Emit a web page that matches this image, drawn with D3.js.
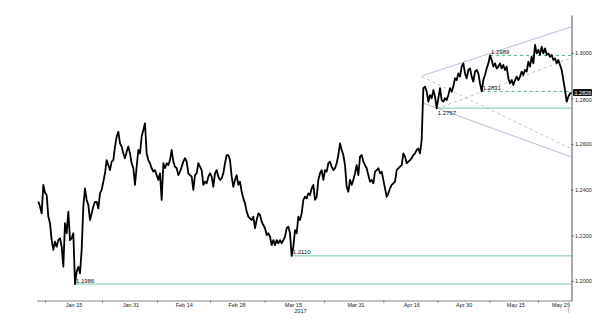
<!DOCTYPE html>
<html>
<head>
<meta charset="utf-8">
<script src="https://cdn.jsdelivr.net/npm/d3@7"></script>
<style>
body { margin: 0; background: #fff; }
svg text { font-family: "Liberation Sans", Arial, sans-serif; }
</style>
</head>
<body>
<svg></svg>
<script>
const width = 600;
const height = 320;

// x unit: trading sessions since Mon Jan 2 2017
const sessionStart = 3.041;
const sessionStep = 0.32515;

const prices = [
  1.2348, 1.2326, 1.2296, 1.2421, 1.2387, 1.2377, 1.2282, 1.2253, 1.2179, 1.2136,
  1.2172, 1.2150, 1.2179, 1.2187, 1.2150, 1.2062, 1.2253, 1.2209, 1.2304, 1.2179,
  1.2187, 1.2209, 1.1986, 1.2041, 1.2062, 1.2033, 1.2136, 1.2326, 1.2406, 1.2355,
  1.2333, 1.2267, 1.2296, 1.2326,
  1.2347, 1.2347, 1.2318, 1.2384, 1.2399, 1.2435, 1.2472, 1.2530, 1.2508, 1.2486,
  1.2523, 1.2530, 1.2589, 1.2633, 1.2654, 1.2603, 1.2589, 1.2559, 1.2538, 1.2567,
  1.2589, 1.2559, 1.2516, 1.2494, 1.2421, 1.2501, 1.2574, 1.2559, 1.2633, 1.2662,
  1.2691, 1.2559, 1.2530, 1.2516, 1.2494, 1.2479, 1.2486, 1.2464, 1.2443, 1.2472,
  1.2355, 1.2516, 1.2494, 1.2516, 1.2508, 1.2530, 1.2574, 1.2523, 1.2501, 1.2494,
  1.2464,
  1.2479, 1.2501, 1.2523, 1.2538, 1.2523, 1.2472, 1.2464, 1.2457, 1.2399, 1.2464,
  1.2472, 1.2516, 1.2501, 1.2486, 1.2421, 1.2435, 1.2428, 1.2457, 1.2472, 1.2457,
  1.2413, 1.2472, 1.2486, 1.2457, 1.2443, 1.2450, 1.2472, 1.2516, 1.2552, 1.2552,
  1.2530, 1.2457, 1.2413, 1.2443, 1.2464, 1.2421, 1.2435, 1.2391, 1.2362, 1.2340,
  1.2304, 1.2282, 1.2274, 1.2267, 1.2282, 1.2231, 1.2267, 1.2296, 1.2289, 1.2260,
  1.2245, 1.2231, 1.2201, 1.2209, 1.2194, 1.2157, 1.2179, 1.2157, 1.2179, 1.2165,
  1.2179, 1.2165, 1.2179, 1.2194, 1.2231, 1.2238,
  1.2209, 1.2110, 1.2150, 1.2223, 1.2209, 1.2282, 1.2267, 1.2296, 1.2355, 1.2369,
  1.2362, 1.2384, 1.2377, 1.2406, 1.2421, 1.2355, 1.2369, 1.2443, 1.2472, 1.2486,
  1.2443, 1.2486, 1.2479, 1.2516, 1.2523, 1.2501, 1.2486, 1.2494, 1.2516, 1.2552,
  1.2603, 1.2574, 1.2552, 1.2508, 1.2413, 1.2391, 1.2443, 1.2421, 1.2443, 1.2472,
  1.2508, 1.2464, 1.2545, 1.2552, 1.2523, 1.2508, 1.2494, 1.2464, 1.2435, 1.2443,
  1.2428, 1.2479, 1.2486, 1.2494, 1.2472, 1.2479, 1.2443, 1.2406, 1.2369, 1.2384,
  1.2406, 1.2421, 1.2428, 1.2435, 1.2486, 1.2494, 1.2501, 1.2508, 1.2559, 1.2545,
  1.2516, 1.2523, 1.2530, 1.2538, 1.2552, 1.2559, 1.2574, 1.2581, 1.2559,
  1.2620, 1.2845, 1.2852, 1.2830, 1.2786, 1.2815, 1.2801, 1.2837, 1.2808, 1.2757,
  1.2801, 1.2845, 1.2793, 1.2786, 1.2801, 1.2793, 1.2815, 1.2845, 1.2830, 1.2852,
  1.2888, 1.2881, 1.2910, 1.2896, 1.2940, 1.2954, 1.2910, 1.2888, 1.2925, 1.2932,
  1.2896, 1.2874, 1.2918, 1.2925, 1.2910, 1.2866, 1.2831, 1.2881, 1.2903, 1.2932,
  1.2954, 1.2989, 1.2969, 1.2940, 1.2954, 1.2932, 1.2940, 1.2954, 1.2932, 1.2947,
  1.2925, 1.2940, 1.2888, 1.2866, 1.2881, 1.2859, 1.2881, 1.2896, 1.2881, 1.2896,
  1.2918, 1.2903, 1.2925, 1.2918, 1.2962, 1.2940, 1.2983, 1.2954, 1.3035, 1.2998,
  1.3013, 1.2991, 1.3027, 1.2998, 1.3020, 1.2991, 1.2998, 1.2983, 1.2991, 1.2969,
  1.2976, 1.2954, 1.2969, 1.2947, 1.2925, 1.2881, 1.2837, 1.2786, 1.2808, 1.2822,
  1.2826
];

const xTickLabels = ["Jan 15", "Jan 31", "Feb 14", "Feb 28", "Mar 15", "Mar 31", "Apr 16", "Apr 30", "May 15", "May 29"];
const xTickSessions = [10, 21.1, 31.5, 41.8, 52.8, 65, 75.9, 86.1, 96.2, 105];
const yearLabel = "2017";
const yTicks = [1.20, 1.22, 1.24, 1.26, 1.28, 1.30];

// support / resistance levels
const levelValues = [1.1986, 1.2110, 1.2757, 1.2831, 1.2989];
const levelStart = [10.19, 52.46, 80.75, 89.53, 91.16];
const levelDashed = [false, false, false, true, true];
const levelLabelAbove = [true, true, false, true, true];

// broadening formation lines [t1, v1, t2, v2]
const fanSolid = [[77.83, 1.2899, 107.09, 1.3115], [78.08, 1.2780, 107.09, 1.2543]];
const fanDashed = [[77.83, 1.2896, 106.76, 1.2582], [80.82, 1.2755, 106.76, 1.2976]];

const data = prices.map((p, i) => ({t: sessionStart + i * sessionStep, v: p}));
const lastPrice = prices[prices.length - 1];

var xScale = d3.scaleLinear().domain([2.782, 107.09]).range([37, 571.7]);
var yScale = d3.scaleLinear().domain([1.19118, 1.31662]).range([301, 15]);

var svg = d3.select("svg").attr("width", width).attr("height", height);

// level lines
levelValues.forEach((v, i) => {
  svg.append("line")
    .attr("x1", xScale(levelStart[i])).attr("x2", 571.5)
    .attr("y1", yScale(v)).attr("y2", yScale(v))
    .attr("stroke", levelDashed[i] ? "#4fb592" : "#a3dccb")
    .attr("stroke-width", levelDashed[i] ? 1 : 1.5)
    .attr("stroke-dasharray", levelDashed[i] ? "3,3" : null);
});

// fan lines
svg.selectAll("line.fan")
  .data(fanSolid)
  .enter()
  .append("line")
  .attr("class", "fan")
  .attr("x1", d => xScale(d[0])).attr("y1", d => yScale(d[1]))
  .attr("x2", d => xScale(d[2])).attr("y2", d => yScale(d[3]))
  .attr("stroke", "#bcbcdc").attr("stroke-width", 1);

svg.selectAll("line.fand")
  .data(fanDashed)
  .enter()
  .append("line")
  .attr("class", "fand")
  .attr("x1", d => xScale(d[0])).attr("y1", d => yScale(d[1]))
  .attr("x2", d => xScale(d[2])).attr("y2", d => yScale(d[3]))
  .attr("stroke", "#b0b0b0").attr("stroke-width", 0.8)
  .attr("stroke-dasharray", "3,3");

// price line
var lineGenerator = d3.line().x(d => xScale(d.t)).y(d => yScale(d.v));
svg.append("path")
  .datum(data)
  .attr("d", lineGenerator)
  .attr("fill", "none")
  .attr("stroke", "#000")
  .attr("stroke-width", 1.8)
  .attr("stroke-linejoin", "round");

// level labels
levelValues.forEach((v, i) => {
  svg.append("text")
    .attr("x", xScale(levelStart[i]) + 1)
    .attr("y", yScale(v) + (levelLabelAbove[i] ? -1.5 : 6.5))
    .attr("font-size", 6)
    .attr("fill", "#111")
    .text(d3.format(".4f")(v));
});

// x axis
svg.append("line")
  .attr("x1", 37).attr("x2", 571.5).attr("y1", 301).attr("y2", 301)
  .attr("stroke", "#888").attr("stroke-width", 1);

var tickMarks = [xTickSessions[0] - (xTickSessions[1] - xTickSessions[0]) / 2];
for (let i = 0; i < xTickSessions.length - 1; i++) {
  tickMarks.push((xTickSessions[i] + xTickSessions[i + 1]) / 2);
}
svg.selectAll("line.xt")
  .data(tickMarks)
  .enter()
  .append("line")
  .attr("class", "xt")
  .attr("x1", d => xScale(d)).attr("x2", d => xScale(d))
  .attr("y1", 300).attr("y2", 303)
  .attr("stroke", "#888");

svg.selectAll("text.xl")
  .data(xTickLabels)
  .enter()
  .append("text")
  .attr("class", "xl")
  .attr("x", (d, i) => xScale(xTickSessions[i]))
  .attr("y", 307)
  .attr("text-anchor", "middle")
  .attr("font-size", 5.5)
  .attr("fill", "#222")
  .text(d => d);

svg.append("text")
  .attr("x", xScale(xTickSessions[4]) + 7)
  .attr("y", 313)
  .attr("text-anchor", "middle")
  .attr("font-size", 5.5)
  .attr("fill", "#222")
  .text(yearLabel);

svg.append("line")
  .attr("x1", xScale(data[data.length - 1].t) - 3).attr("x2", xScale(data[data.length - 1].t) - 3)
  .attr("y1", 302).attr("y2", 313)
  .attr("stroke", "#bbb");

// y axis
var yAxis = d3.axisRight(yScale)
  .tickValues(yTicks)
  .tickSize(2)
  .tickSizeOuter(0)
  .tickFormat(d3.format(".4f"));

var gy = svg.append("g")
  .attr("transform", "translate(571.5,0)")
  .call(yAxis);
gy.select(".domain").attr("stroke", "#555");
gy.selectAll(".tick line").attr("stroke", "#555");
gy.selectAll(".tick text")
  .attr("x", 3.5)
  .attr("font-size", 5.5)
  .attr("font-family", "Liberation Sans, Arial, sans-serif")
  .attr("fill", "#222")
  .attr("dy", d => d === 1.28 ? "0.6em" : "0.32em");

// last price box
var boxY = yScale(lastPrice);
svg.append("rect")
  .attr("x", 573).attr("y", boxY - 3.5)
  .attr("width", 19).attr("height", 7)
  .attr("rx", 1)
  .attr("fill", "#111");
svg.append("text")
  .attr("x", 574.5).attr("y", boxY + 2)
  .attr("font-size", 5.5)
  .attr("fill", "#fff")
  .text(d3.format(".4f")(lastPrice));
</script>
</body>
</html>
